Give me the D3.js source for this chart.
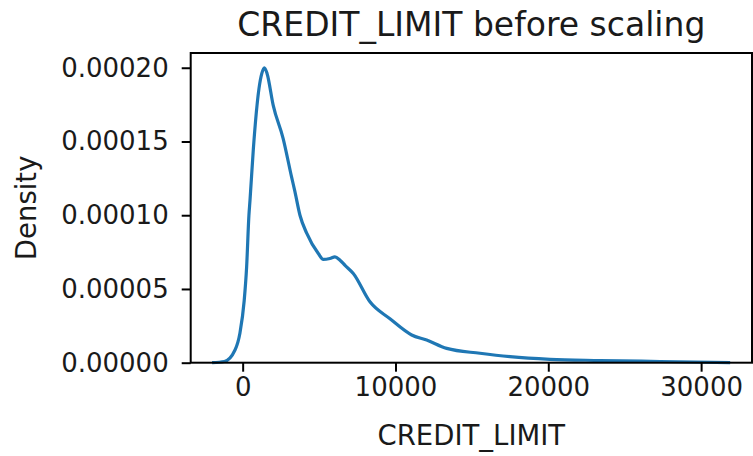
<!DOCTYPE html>
<meta charset="utf-8">
<style>
    body { margin: 0; background: #fff; }
    svg text { font-family: "DejaVu Sans", sans-serif; fill: #1a1a1a; }
    .axis path, .axis line { stroke: #000; stroke-width: 2px; }
</style>
<svg width="753" height="456"></svg>
<script src="https://cdn.jsdelivr.net/npm/d3@7"></script>
<script>
    // KDE curve
    let creditLimit = [-2000, -1200, -500, -180, 100, 260, 410, 480, 700, 1070, 1250, 1420, 1600,
        2000, 2650, 3200, 3420, 3750, 4190, 4950, 5280, 5710, 6040, 6370, 6700, 7240, 8330,
        9640, 11060, 12040, 13350, 15530, 17490, 20110, 23390, 27320, 31900];
    let density = [0, 0.08, 0.86, 2.0, 4.2, 6.5, 10.0, 11.0, 14.5, 18.6, 19.6, 20.0, 19.6,
        17.45, 15.2, 12.6, 11.6, 10.0, 8.78, 7.4, 7.0, 7.07, 7.18, 6.95, 6.6, 6.05, 4.13,
        2.98, 1.88, 1.54, 0.97, 0.64, 0.41, 0.23, 0.15, 0.08, 0].map(d => d * 1e-5);

    let xTicks = [0, 10000, 20000, 30000];
    let yTicks = [0, 0.00005, 0.0001, 0.00015, 0.0002];

    let svg = d3.select("svg");
    let plotL = 190.7, plotR = 752, plotT = 53, plotB = 362.7;

    let x = d3.scaleLinear().domain([-3400, 33330]).range([plotL, plotR]);
    let y = d3.scaleLinear().domain([0, 0.00021]).range([plotB, plotT]);

    let data = creditLimit.map((c, i) => ({x: c, y: density[i]}));

    let line = d3.line()
            .x(d => x(d.x))
            .y(d => y(d.y))
            .curve(d3.curveMonotoneX);

    svg.append("path")
            .datum(data)
            .attr("fill", "none")
            .attr("stroke", "#1f77b4")
            .attr("stroke-width", 3.2)
            .attr("stroke-linejoin", "round")
            .attr("d", line);

    // frame
    svg.append("rect")
            .attr("x", plotL).attr("y", plotT)
            .attr("width", plotR - plotL).attr("height", plotB - plotT)
            .attr("fill", "none").attr("stroke", "#000").attr("stroke-width", 2);

    let xAxis = svg.append("g")
            .attr("class", "axis")
            .attr("transform", `translate(0,${plotB})`)
            .call(d3.axisBottom(x).tickValues(xTicks).tickFormat(d3.format("d")).tickSize(9).tickPadding(6));
    xAxis.select(".domain").remove();
    xAxis.selectAll("text").attr("font-size", 26).style("font-family", "DejaVu Sans");

    let yAxis = svg.append("g")
            .attr("class", "axis")
            .attr("transform", `translate(${plotL},0)`)
            .call(d3.axisLeft(y).tickValues(yTicks).tickFormat(d3.format(".5f")).tickSize(9).tickPadding(13));
    yAxis.select(".domain").remove();
    yAxis.selectAll("text").attr("font-size", 26).style("font-family", "DejaVu Sans");

    svg.append("text")
            .attr("x", (plotL + plotR) / 2)
            .attr("y", 36)
            .attr("text-anchor", "middle")
            .attr("font-size", 33)
            .text("CREDIT_LIMIT before scaling");

    svg.append("text")
            .attr("x", (plotL + plotR) / 2)
            .attr("y", 445)
            .attr("text-anchor", "middle")
            .attr("font-size", 27.5)
            .text("CREDIT_LIMIT");

    svg.append("text")
            .attr("transform", `translate(36,${(plotT + plotB) / 2}) rotate(-90)`)
            .attr("text-anchor", "middle")
            .attr("font-size", 27.5)
            .text("Density");
</script>
